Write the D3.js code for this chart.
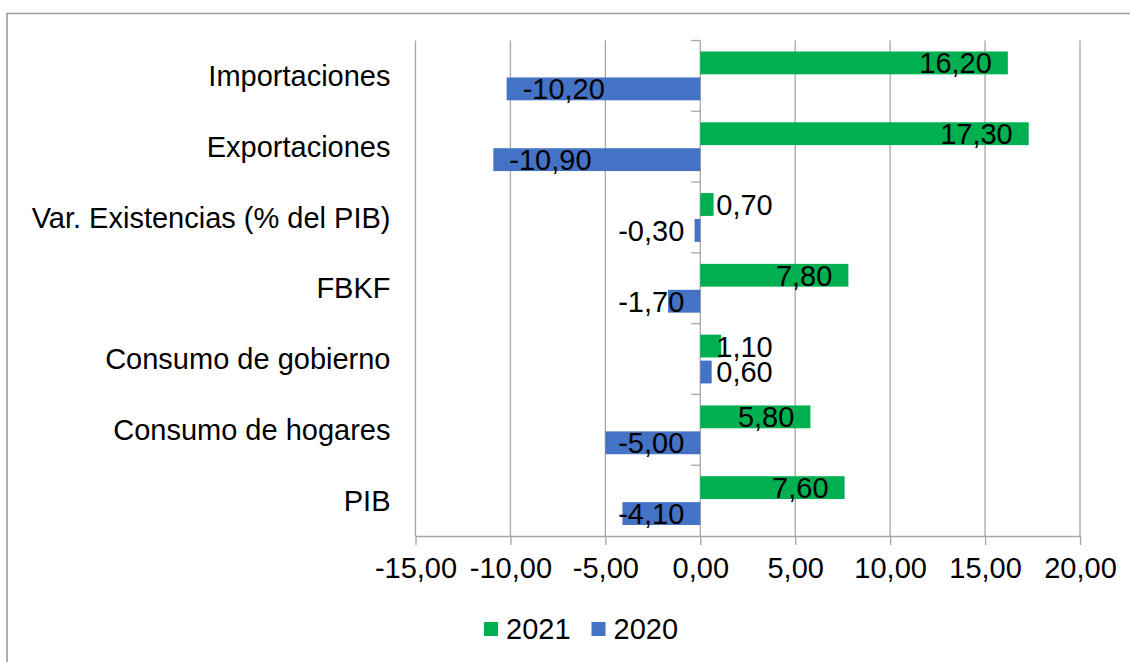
<!DOCTYPE html>
<meta charset="utf-8">
<script src="https://d3js.org/d3.v7.min.js"></script>
<title>Componentes del PIB</title>
<style>
  body { margin: 0; background: white; }
  text { font-family: "Liberation Sans", Arial, sans-serif; fill: #000; }
</style>
<div id="chart"></div>
<script>
// categories top to bottom, as in the picture
var categories = ["Importaciones", "Exportaciones", "Var. Existencias (% del PIB)",
                  "FBKF", "Consumo de gobierno", "Consumo de hogares", "PIB"];
var values2021 = [16.2, 17.3, 0.7, 7.8, 1.1, 5.8, 7.6];
var values2020 = [-10.2, -10.9, -0.3, -1.7, 0.6, -5.0, -4.1];
var seriesNames = ["2021", "2020"];
var seriesColors = ["#00b050", "#4472c4"];
var xTicks = [-15, -10, -5, 0, 5, 10, 15, 20];

var W = 1130, H = 662;
var plotL = 415.5, plotR = 1080, plotT = 40.5, plotB = 536;
var fs = 29;

var svg = d3.select("#chart").append("svg")
    .attr("width", W)
    .attr("height", H);

// outer frame (only top and left edges are visible)
svg.append("path")
    .attr("d", "M7," + H + "V13.5H" + W)
    .attr("fill", "none")
    .attr("stroke", "#9a9a9a")
    .attr("stroke-width", 1.6);

var x = d3.scaleLinear().domain([-15, 20]).range([plotL, plotR]);
var y = d3.scaleBand().domain(categories).range([plotT, plotB]);
var y1 = d3.scaleBand().domain(seriesNames).range([11, y.bandwidth() - 11]).paddingInner(0.12);

var fmt = function(v) { return d3.format(".2f")(v).replace(".", ",").replace("−", "-"); };

// gridlines
svg.append("g").selectAll("line")
  .data(xTicks)
  .join("line")
    .attr("x1", function(d) { return x(d); })
    .attr("x2", function(d) { return x(d); })
    .attr("y1", plotT)
    .attr("y2", plotB)
    .attr("stroke", "#a6a6a6")
    .attr("stroke-width", 1.3);

// x axis
var xAxis = svg.append("g")
    .attr("transform", "translate(0," + plotB + ")")
    .call(d3.axisBottom(x).tickValues(xTicks).tickSize(9).tickSizeOuter(0).tickPadding(12).tickFormat(fmt));
xAxis.select(".domain").attr("stroke", "#a6a6a6").attr("stroke-width", 1.3);
xAxis.selectAll(".tick line").attr("stroke", "#a6a6a6").attr("stroke-width", 1.3);
xAxis.selectAll(".tick text")
    .attr("font-size", fs)
    .attr("font-family", "Liberation Sans, Arial, sans-serif")
    .attr("fill", "#000");

// category tick marks on the zero line
var bounds = categories.map(function(c) { return y(c); });
svg.append("g").selectAll("line")
  .data(bounds)
  .join("line")
    .attr("x1", x(0) - 9)
    .attr("x2", x(0))
    .attr("y1", function(d) { return d; })
    .attr("y2", function(d) { return d; })
    .attr("stroke", "#a6a6a6")
    .attr("stroke-width", 1.3);

// category labels
svg.append("g").selectAll("text")
  .data(categories)
  .join("text")
    .attr("x", plotL - 25)
    .attr("y", function(d) { return y(d) + y.bandwidth() / 2; })
    .attr("dy", "0.35em")
    .attr("text-anchor", "end")
    .attr("font-size", fs)
    .text(function(d) { return d; });

var rows = [];
categories.forEach(function(c, i) {
  rows.push({ cat: c, s: "2021", v: values2021[i], color: seriesColors[0] });
  rows.push({ cat: c, s: "2020", v: values2020[i], color: seriesColors[1] });
});

// bars
svg.append("g").selectAll("rect")
  .data(rows)
  .join("rect")
    .attr("x", function(d) { return x(Math.min(0, d.v)); })
    .attr("y", function(d) { return y(d.cat) + y1(d.s); })
    .attr("width", function(d) { return Math.abs(x(d.v) - x(0)); })
    .attr("height", y1.bandwidth())
    .attr("fill", function(d) { return d.color; });

// value labels: inside end, kept clear of the zero line
var labels = svg.append("g").selectAll("text")
  .data(rows)
  .join("text")
    .attr("y", function(d) { return y(d.cat) + y1(d.s) + y1.bandwidth() / 2; })
    .attr("dy", "0.36em")
    .attr("font-size", fs)
    .text(function(d) { return fmt(d.v); });

labels.each(function(d) {
  var w = this.getComputedTextLength();
  var x0 = x(0), xe = x(d.v), pos;
  if (d.v >= 0) pos = Math.max(xe - 16, x0 + 16 + w) - w;
  else pos = Math.min(xe + 16, x0 - 16 - w);
  d3.select(this).attr("x", pos);
});

// legend
var legend = svg.append("g").attr("transform", "translate(484,622)");
var item = legend.selectAll("g")
  .data(seriesNames)
  .join("g")
    .attr("transform", function(d, i) { return "translate(" + (i * 107.5) + ",0)"; });
item.append("rect")
    .attr("width", 14)
    .attr("height", 14)
    .attr("fill", function(d, i) { return seriesColors[i]; });
item.append("text")
    .attr("x", 22)
    .attr("y", 16.5)
    .attr("font-size", fs)
    .text(function(d) { return d; });
</script>
